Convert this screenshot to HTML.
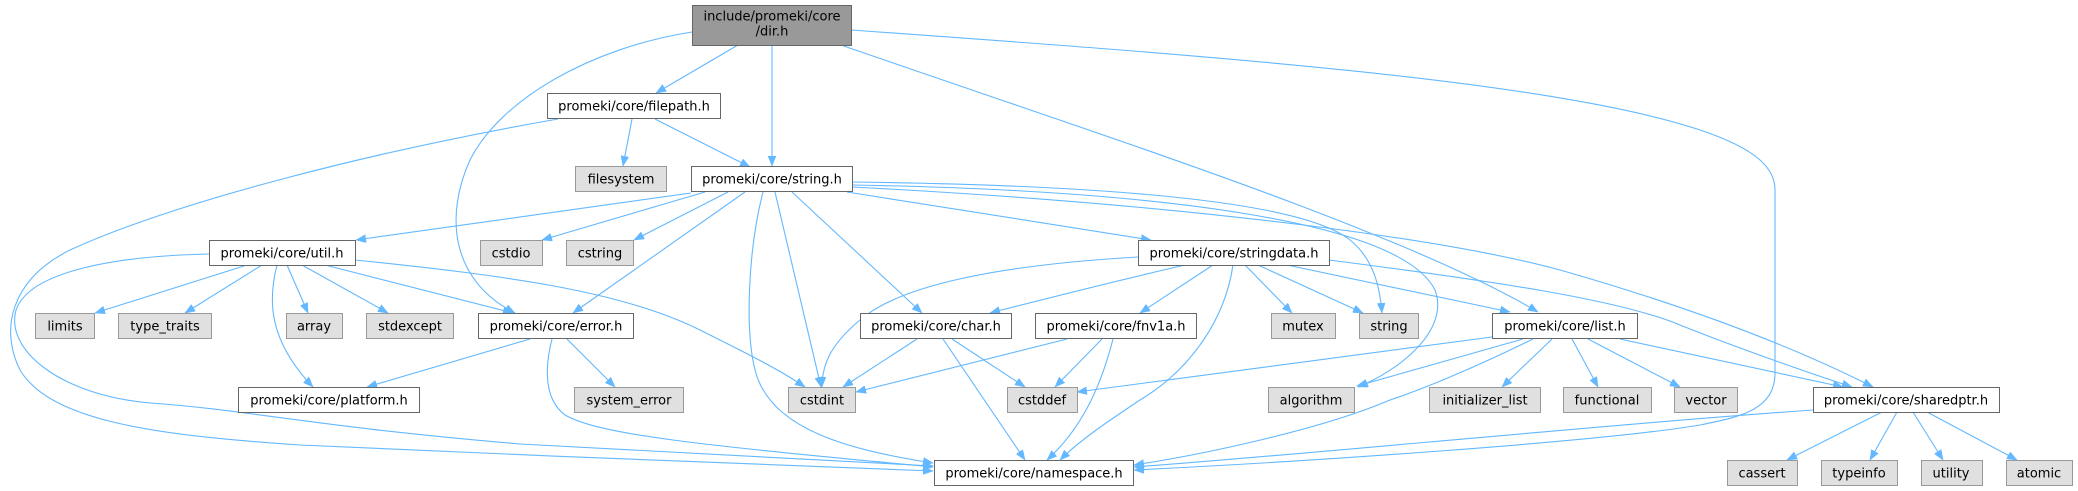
<!DOCTYPE html>
<html><head><meta charset="utf-8"><style>
html,body{margin:0;padding:0;background:#fff;}
svg{display:block;}
text{font-family:"DejaVu Sans","Liberation Sans",sans-serif;font-size:13px;fill:#000;text-anchor:middle;}
.e{fill:none;stroke:#63b8ff;stroke-width:1.1;marker-end:url(#a);}
.w{fill:#fff;stroke:#666;stroke-width:1;}
.g{fill:#e0e0e0;stroke:#999;stroke-width:1;}
.d{fill:#999;stroke:#666;stroke-width:1;}
</style></head><body>
<svg width="2078" height="491" viewBox="0 0 2078 491" xmlns="http://www.w3.org/2000/svg">
<defs><marker id="a" markerUnits="userSpaceOnUse" markerWidth="11" markerHeight="8" refX="10" refY="4" orient="auto"><path d="M0,0 L10,4 L0,8 z" fill="#63b8ff" stroke="#63b8ff" stroke-width="0.5"/></marker></defs>
<rect width="2078" height="491" fill="#fff"/>
<!-- edges -->
<path class="e" d="M738,45 L656,93"/>
<path class="e" d="M772,45 L772,166"/>
<path class="e" d="M692,32 C590,48 500,100 470,160 C445,215 450,280 515,313"/>
<path class="e" d="M841,45 C1100,135 1400,230 1538,312"/>
<path class="e" d="M851,30 C1200,55 1550,80 1700,130 C1760,150 1775,170 1775,190 L1775,373 C1775,410 1740,417 1700,425 C1600,442 1300,462 1134,470"/>
<path class="e" d="M632,119 L623,166"/>
<path class="e" d="M655,119 L750,167"/>
<path class="e" d="M558,119 C380,150 180,200 70,250 C10,280 0,330 20,370 C50,420 150,435 300,445 C500,455 800,465 933,471"/>
<path class="e" d="M691,193 L356,240"/>
<path class="e" d="M705,192 L542,240"/>
<path class="e" d="M728,192 L634,240"/>
<path class="e" d="M745,192 L573,313"/>
<path class="e" d="M763,192 C748,250 745,330 755,370 C770,430 850,450 933,463"/>
<path class="e" d="M775,192 L821,387"/>
<path class="e" d="M792,192 L922,313"/>
<path class="e" d="M847,192 L1151,240"/>
<path class="e" d="M852,182 C1100,185 1300,200 1350,240 C1375,260 1380,290 1382,313"/>
<path class="e" d="M852,185 C1150,190 1400,220 1435,290 C1450,330 1400,370 1358,387"/>
<path class="e" d="M852,187 C1200,205 1450,240 1560,270 C1700,310 1800,350 1873,387"/>
<path class="e" d="M1329,260 C1500,282 1620,300 1680,325 C1730,345 1800,370 1852,387"/>
<path class="e" d="M1287,265 L1510,312"/>
<path class="e" d="M1258,265 L1363,313"/>
<path class="e" d="M1245,265 L1292,313"/>
<path class="e" d="M1233,265 C1225,320 1190,370 1140,400 C1110,420 1080,440 1060,460"/>
<path class="e" d="M1213,265 L1140,313"/>
<path class="e" d="M1185,265 C1120,280 1060,295 990,313"/>
<path class="e" d="M1138,257 C1000,265 900,285 860,320 C830,345 822,365 822,387"/>
<path class="e" d="M917,339 L843,387"/>
<path class="e" d="M952,339 L1025,387"/>
<path class="e" d="M943,339 L1025,460"/>
<path class="e" d="M1067,339 L856,392"/>
<path class="e" d="M1102,339 L1055,387"/>
<path class="e" d="M1113,339 C1100,390 1080,430 1047,460"/>
<path class="e" d="M1492,337 L1077,392"/>
<path class="e" d="M1523,339 L1357,386"/>
<path class="e" d="M1533,339 C1470,370 1420,390 1390,400 C1320,430 1200,455 1134,465"/>
<path class="e" d="M1552,339 L1502,387"/>
<path class="e" d="M1572,339 L1598,387"/>
<path class="e" d="M1588,339 L1680,387"/>
<path class="e" d="M1620,339 L1843,387"/>
<path class="e" d="M1813,410 C1600,425 1300,455 1134,467"/>
<path class="e" d="M1882,412 L1787,460"/>
<path class="e" d="M1897,412 L1870,460"/>
<path class="e" d="M1913,412 L1943,460"/>
<path class="e" d="M1927,412 L2017,460"/>
<path class="e" d="M247,265 L95,313"/>
<path class="e" d="M262,265 L185,313"/>
<path class="e" d="M277,265 C268,300 268,340 313,387"/>
<path class="e" d="M287,265 L308,313"/>
<path class="e" d="M302,265 L388,313"/>
<path class="e" d="M325,265 L513,313"/>
<path class="e" d="M355,260 C500,275 620,290 700,330 C750,355 780,370 805,387"/>
<path class="e" d="M209,254 C120,256 30,270 16,310 C5,350 60,395 150,403 C250,410 300,425 520,444 L933,466"/>
<path class="e" d="M530,339 L367,387"/>
<path class="e" d="M567,339 L615,387"/>
<path class="e" d="M552,339 C544,370 545,400 565,415 C600,435 700,445 933,467"/>
<!-- nodes -->
<rect class="d" x="692.5" y="5.5" width="159" height="40"/>
<text x="772" y="20.5">include/promeki/core</text>
<text x="772" y="35.5">/dir.h</text>
<rect class="w" x="547.5" y="93.5" width="173" height="25"/><text x="634" y="110.5">promeki/core/filepath.h</text>
<rect class="g" x="575.5" y="166.5" width="91" height="25"/><text x="621" y="183.5">filesystem</text>
<rect class="w" x="691.5" y="166.5" width="161" height="25"/><text x="772" y="183.5">promeki/core/string.h</text>
<rect class="w" x="209.5" y="240.5" width="146" height="25"/><text x="282" y="257.5">promeki/core/util.h</text>
<rect class="g" x="480.5" y="240.5" width="62" height="25"/><text x="511" y="257.5">cstdio</text>
<rect class="g" x="566.5" y="240.5" width="67" height="25"/><text x="600" y="257.5">cstring</text>
<rect class="w" x="1138.5" y="240.5" width="191" height="25"/><text x="1234" y="257.5">promeki/core/stringdata.h</text>
<rect class="g" x="35.5" y="313.5" width="59" height="25"/><text x="65" y="330.5">limits</text>
<rect class="g" x="118.5" y="313.5" width="93" height="25"/><text x="165" y="330.5">type_traits</text>
<rect class="g" x="286.5" y="313.5" width="56" height="25"/><text x="314" y="330.5">array</text>
<rect class="g" x="366.5" y="313.5" width="87" height="25"/><text x="410" y="330.5">stdexcept</text>
<rect class="w" x="478.5" y="313.5" width="155" height="25"/><text x="556" y="330.5">promeki/core/error.h</text>
<rect class="w" x="860.5" y="313.5" width="151" height="25"/><text x="936" y="330.5">promeki/core/char.h</text>
<rect class="w" x="1035.5" y="313.5" width="161" height="25"/><text x="1116" y="330.5">promeki/core/fnv1a.h</text>
<rect class="g" x="1271.5" y="313.5" width="64" height="25"/><text x="1303" y="330.5">mutex</text>
<rect class="g" x="1359.5" y="313.5" width="59" height="25"/><text x="1389" y="330.5">string</text>
<rect class="w" x="1492.5" y="313.5" width="145" height="25"/><text x="1565" y="330.5">promeki/core/list.h</text>
<rect class="w" x="238.5" y="387.5" width="181" height="25"/><text x="329" y="404.5">promeki/core/platform.h</text>
<rect class="g" x="574.5" y="387.5" width="109" height="25"/><text x="629" y="404.5">system_error</text>
<rect class="g" x="788.5" y="387.5" width="67" height="25"/><text x="822" y="404.5">cstdint</text>
<rect class="g" x="1007.5" y="387.5" width="70" height="25"/><text x="1042" y="404.5">cstddef</text>
<rect class="g" x="1268.5" y="387.5" width="86" height="25"/><text x="1311" y="404.5">algorithm</text>
<rect class="g" x="1429.5" y="387.5" width="111" height="25"/><text x="1485" y="404.5">initializer_list</text>
<rect class="g" x="1563.5" y="387.5" width="88" height="25"/><text x="1607" y="404.5">functional</text>
<rect class="g" x="1674.5" y="387.5" width="63" height="25"/><text x="1706" y="404.5">vector</text>
<rect class="w" x="1813.5" y="387.5" width="186" height="25"/><text x="1906" y="404.5">promeki/core/sharedptr.h</text>
<rect class="w" x="934.5" y="460.5" width="199" height="25"/><text x="1034" y="477.5">promeki/core/namespace.h</text>
<rect class="g" x="1727.5" y="460.5" width="70" height="25"/><text x="1762" y="477.5">cassert</text>
<rect class="g" x="1821.5" y="460.5" width="76" height="25"/><text x="1859" y="477.5">typeinfo</text>
<rect class="g" x="1921.5" y="460.5" width="61" height="25"/><text x="1951" y="477.5">utility</text>
<rect class="g" x="2006.5" y="460.5" width="66" height="25"/><text x="2039" y="477.5">atomic</text>
</svg>
</body></html>
